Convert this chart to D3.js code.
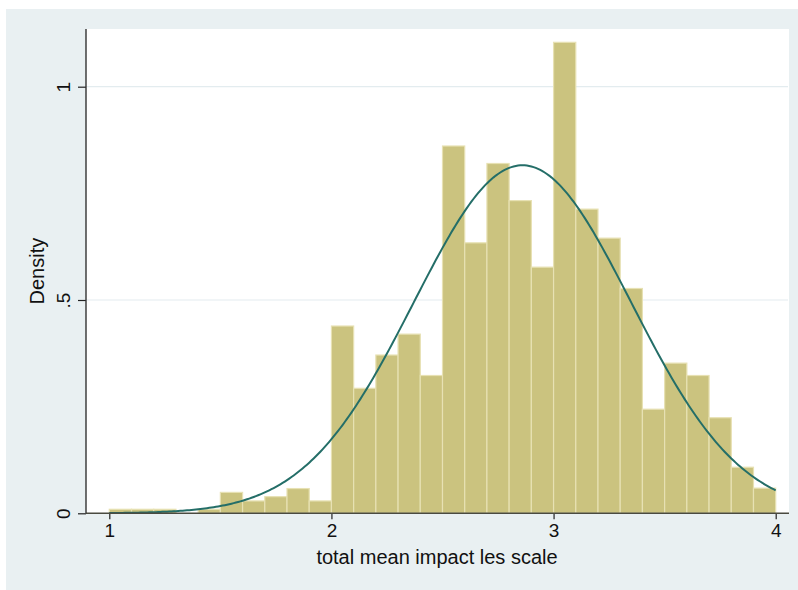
<!DOCTYPE html>
<html>
<head>
<meta charset="utf-8">
<script src="https://cdn.jsdelivr.net/npm/d3@7"></script>
<style>
  html, body { margin: 0; padding: 0; background: #ffffff; }
  svg { display: block; font-family: "Liberation Sans", Arial, Helvetica, sans-serif; }
</style>
</head>
<body>
<svg id="chart" width="798" height="590"></svg>
<script>
// ---- data ----
const binStarts = [1.0, 1.1, 1.2, 1.3, 1.4, 1.5, 1.6, 1.7, 1.8, 1.9,
                   2.0, 2.1, 2.2, 2.3, 2.4, 2.5, 2.6, 2.7, 2.8, 2.9,
                   3.0, 3.1, 3.2, 3.3, 3.4, 3.5, 3.6, 3.7, 3.8, 3.9];
const binWidth = 0.1;
const densities = [0.0094, 0.0094, 0.0094, 0, 0.0094, 0.049, 0.029, 0.039, 0.058, 0.029,
                   0.439, 0.293, 0.371, 0.420, 0.323, 0.861, 0.634, 0.820, 0.733, 0.577,
                   1.104, 0.713, 0.645, 0.527, 0.244, 0.352, 0.323, 0.224, 0.108, 0.059];
const normalMean = 2.86;
const normalSd = 0.489;
const xTicks = [1, 2, 3, 4];
const xTickLabels = ["1", "2", "3", "4"];
const yTicks = [0, 0.5, 1];
const yTickLabels = ["0", ".5", "1"];
const xTitle = "total mean impact les scale";
const yTitle = "Density";

// ---- layout ----
const svg = d3.select("#chart");
const plot = { left: 86, right: 788, top: 29, bottom: 513.3 };

svg.append("rect").attr("x", 6).attr("y", 9).attr("width", 792).attr("height", 581)
  .attr("fill", "#e9f0f2");
svg.append("rect").attr("x", plot.left).attr("y", plot.top)
  .attr("width", plot.right - plot.left + 1).attr("height", plot.bottom - plot.top)
  .attr("fill", "#ffffff");

const x = d3.scaleLinear().domain([1, 4]).range([109.3, 775.7]);
const y = d3.scaleLinear().domain([0, 1]).range([513.3, 86.7]);

// grid lines
svg.append("g").selectAll("line").data(yTicks.filter(d => d > 0)).join("line")
  .attr("x1", plot.left).attr("x2", plot.right)
  .attr("y1", d => y(d)).attr("y2", d => y(d))
  .attr("stroke", "#e3ecef").attr("stroke-width", 1.2);

// bars
const bins = binStarts.map((s, i) => ({ x0: s, x1: s + binWidth, d: densities[i] }));
svg.append("g").selectAll("rect").data(bins.filter(b => b.d > 0)).join("rect")
  .attr("x", b => x(b.x0))
  .attr("width", b => x(b.x1) - x(b.x0))
  .attr("y", b => y(b.d))
  .attr("height", b => y(0) - y(b.d))
  .attr("fill", "#cbc37f")
  .attr("stroke", "#e7e1b3")
  .attr("stroke-width", 1.2);

// normal curve
const curveX = d3.range(1, 4.0001, 0.01);
const normal = v => Math.exp(-0.5 * Math.pow((v - normalMean) / normalSd, 2)) / (normalSd * Math.sqrt(2 * Math.PI));
svg.append("path")
  .datum(curveX)
  .attr("d", d3.line().x(v => x(v)).y(v => y(normal(v))).curve(d3.curveLinear))
  .attr("fill", "none")
  .attr("stroke", "#246e68")
  .attr("stroke-width", 2);

// axes
const xAxis = d3.axisBottom(x).tickValues(xTicks).tickFormat((d, i) => xTickLabels[i])
  .tickSize(6).tickPadding(4);
const gx = svg.append("g").attr("transform", `translate(0,${plot.bottom})`).call(xAxis);
gx.select(".domain").remove();
gx.selectAll(".tick line").attr("stroke", "#222").attr("stroke-width", 1.2);
gx.selectAll(".tick text").attr("font-size", 19).attr("fill", "#111")
  .attr("font-family", "Liberation Sans, Arial, sans-serif");
svg.append("line").attr("x1", plot.left).attr("x2", plot.right + 1)
  .attr("y1", plot.bottom).attr("y2", plot.bottom)
  .attr("stroke", "#4a4a40").attr("stroke-width", 1.4);

const yAxis = d3.axisLeft(y).tickValues(yTicks).tickFormat((d, i) => yTickLabels[i])
  .tickSize(8).tickPadding(0);
const gy = svg.append("g").attr("transform", `translate(${plot.left},0)`).call(yAxis);
gy.select(".domain").remove();
gy.selectAll(".tick line").attr("stroke", "#222").attr("stroke-width", 1.2);
gy.selectAll(".tick text")
  .attr("font-size", 19).attr("fill", "#111")
  .attr("font-family", "Liberation Sans, Arial, sans-serif")
  .attr("x", null).attr("dy", null)
  .attr("text-anchor", "middle")
  .attr("transform", "translate(-16,0) rotate(-90)");
svg.append("line").attr("x1", plot.left).attr("x2", plot.left)
  .attr("y1", plot.top).attr("y2", plot.bottom)
  .attr("stroke", "#333").attr("stroke-width", 1.4);

// titles
svg.append("text").attr("x", (plot.left + plot.right) / 2).attr("y", 564)
  .attr("text-anchor", "middle").attr("font-size", 20).attr("fill", "#111")
  .text(xTitle);
svg.append("text")
  .attr("transform", `translate(44,${(plot.top + plot.bottom) / 2}) rotate(-90)`)
  .attr("text-anchor", "middle").attr("font-size", 20).attr("fill", "#111")
  .text(yTitle);
</script>
</body>
</html>
